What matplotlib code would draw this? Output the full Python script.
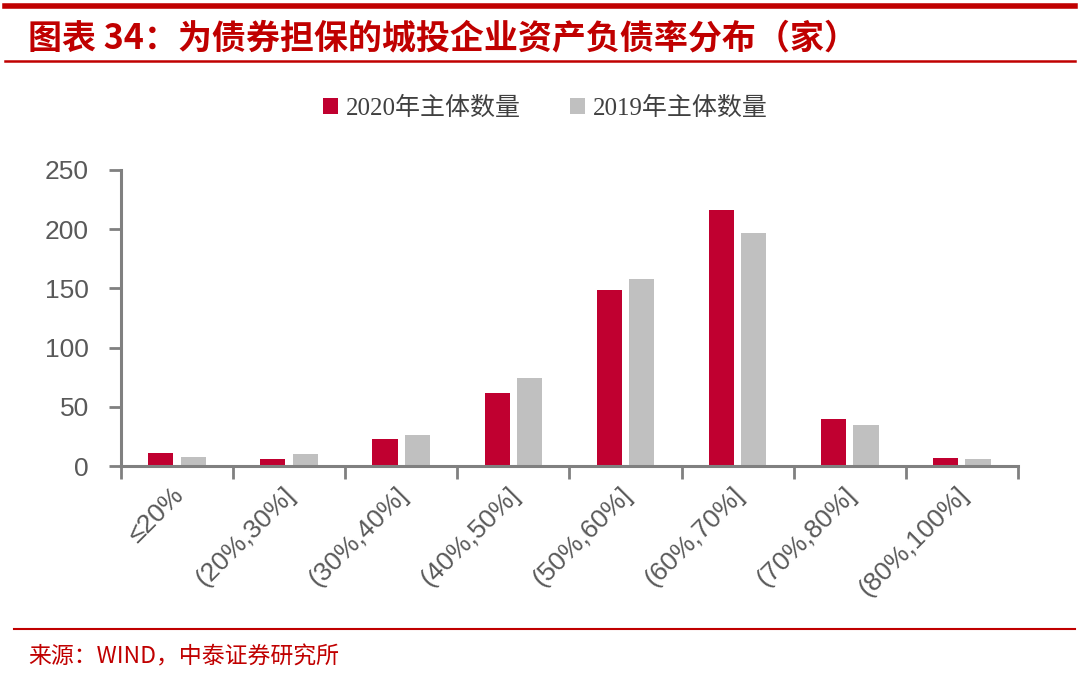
import numpy as np
import matplotlib
matplotlib.use("Agg")
import matplotlib.pyplot as plt
from matplotlib.lines import Line2D
from matplotlib.transforms import ScaledTranslation

plt.rcParams['font.family'] = ['Liberation Sans', 'Noto Sans CJK SC', 'DejaVu Sans']

categories = ['≤20%', '(20%,30%]', '(30%,40%]', '(40%,50%]', '(50%,60%]',
              '(60%,70%]', '(70%,80%]', '(80%,100%]']
count_2020 = [11, 6, 23, 62, 149, 216, 40, 7]
count_2019 = [8, 10, 26, 74, 158, 197, 35, 6]
series_names = ['2020年主体数量', '2019年主体数量']
yticks = [0, 50, 100, 150, 200, 250]

red = '#C00030'
gray = '#C0C0C0'
axis_gray = '#808080'
text_gray = '#595959'
title_red = '#C00000'

fig = plt.figure(figsize=(10.8, 6.74), dpi=100)
ax = fig.add_axes([0.112, 0.3086, 0.8305, 0.4392])

x = np.arange(len(categories))
w = 0.225
ax.bar(x - 0.145, count_2020, width=w, color=red, label=series_names[0])
ax.bar(x + 0.145, count_2019, width=w, color=gray, label=series_names[1])

ax.set_xlim(-0.5, len(categories) - 0.5)
ax.set_ylim(0, 250)
ax.set_yticks(yticks)
ax.set_yticklabels([str(v) for v in yticks], fontsize=19, color=text_gray)
ax.tick_params(axis='y', length=9, width=2, color=axis_gray, pad=14)

ax.set_xticks(x)
ax.set_xticklabels(categories, rotation=45, ha='right', va='top',
                   rotation_mode='anchor', fontsize=19, color=text_gray)
ax.set_xticks(np.arange(len(categories) + 1) - 0.5, minor=True)
ax.tick_params(axis='x', which='major', length=0, pad=12)
ax.tick_params(axis='x', which='minor', length=9, width=2, color=axis_gray)
off = ScaledTranslation(-6 / 100, 0, fig.dpi_scale_trans)
for lbl in ax.get_xticklabels():
    lbl.set_transform(lbl.get_transform() + off)

for s in ['top', 'right']:
    ax.spines[s].set_visible(False)
for s in ['left', 'bottom']:
    ax.spines[s].set_color(axis_gray)
    ax.spines[s].set_linewidth(2.2)

leg = fig.legend(loc='center', bbox_to_anchor=(0.505, 0.84), ncol=2, frameon=False,
                 prop={'family': ['Liberation Serif', 'Noto Sans CJK SC'], 'size': 18},
                 handlelength=0.6, handleheight=0.6, handletextpad=0.3, columnspacing=2.0)
for t in leg.get_texts():
    t.set_color('#404040')

# header / footer decoration
fig.add_artist(Line2D([0.005, 0.995], [0.991, 0.991], color=title_red, lw=4,
                      transform=fig.transFigure))
fig.add_artist(Line2D([0.005, 0.995], [0.909, 0.909], color=title_red, lw=1.8,
                      transform=fig.transFigure))
fig.add_artist(Line2D([0.013, 0.995], [0.067, 0.067], color=title_red, lw=1.5,
                      transform=fig.transFigure))
fig.text(0.026, 0.944, '图表 34：为债券担保的城投企业资产负债率分布（家）',
         family=['Noto Sans CJK SC'], fontsize=24.5, fontweight='bold',
         color=title_red, va='center', ha='left')
fig.text(0.026, 0.025, '来源：WIND，中泰证券研究所',
         family=['Noto Sans CJK SC'], fontsize=16.5, color=title_red,
         va='center', ha='left')

fig.savefig('out.png', dpi=100)
